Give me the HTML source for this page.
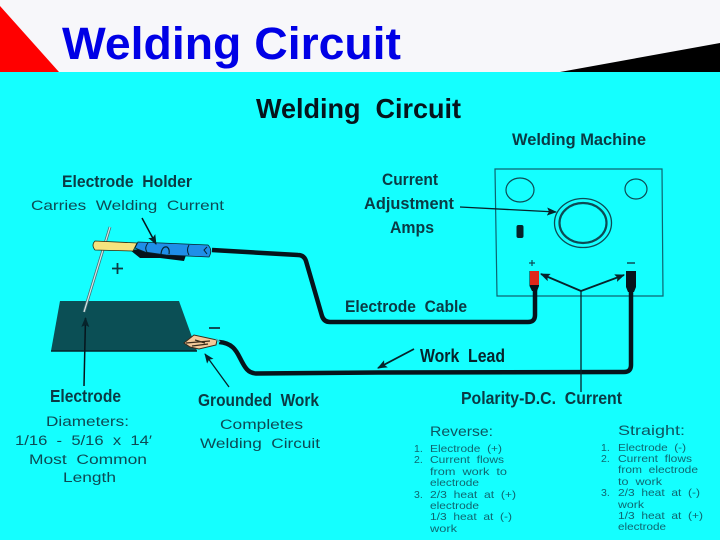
<!DOCTYPE html>
<html lang="en">
<head>
<meta charset="utf-8">
<title>Welding Circuit</title>
<style>
html,body{margin:0;padding:0;background:#14ffff}
svg{display:block}
text{font-family:"Liberation Sans",sans-serif;white-space:pre}
.h{font-weight:bold;fill:#0b3a44}
.m{fill:#0d4a54}
.s{fill:#0f6670;font-size:10.5px}
</style>
</head>
<body>
<svg width="720" height="540" viewBox="0 0 720 540" xmlns="http://www.w3.org/2000/svg">
<defs>
<marker id="a" markerWidth="10" markerHeight="8" refX="9" refY="4" orient="auto" markerUnits="userSpaceOnUse"><path d="M0 0L10 4L0 8L2 4Z" fill="#06232b"/></marker>
</defs>
<rect width="720" height="540" fill="#14ffff"/>
<rect width="720" height="72" fill="#f7f7fa"/>
<path d="M0 6L59 72H0Z" fill="#ff0000"/>
<path d="M560 72L720 43V72Z" fill="#000"/>
<text x="62" y="59" font-size="45" font-weight="bold" fill="#0000e6" textLength="339" lengthAdjust="spacingAndGlyphs">Welding Circuit</text>

<text x="256" y="118" font-size="28" font-weight="bold" fill="#06141c" textLength="205" lengthAdjust="spacingAndGlyphs">Welding  Circuit</text>
<text x="512" y="145" class="h" font-size="17" textLength="134" lengthAdjust="spacingAndGlyphs">Welding Machine</text>
<text x="62" y="187" class="h" font-size="17" textLength="130" lengthAdjust="spacingAndGlyphs">Electrode  Holder</text>
<text x="31" y="210" class="m" font-size="14" textLength="193" lengthAdjust="spacingAndGlyphs">Carries  Welding  Current</text>
<text x="382" y="185" class="h" font-size="17" textLength="56" lengthAdjust="spacingAndGlyphs">Current</text>
<text x="364" y="209" class="h" font-size="17" textLength="90" lengthAdjust="spacingAndGlyphs">Adjustment</text>
<text x="390" y="233" class="h" font-size="17" textLength="44" lengthAdjust="spacingAndGlyphs">Amps</text>
<text x="345" y="312" class="h" font-size="17" textLength="122" lengthAdjust="spacingAndGlyphs">Electrode  Cable</text>
<text x="420" y="362" font-size="18" font-weight="bold" fill="#06232b" textLength="85" lengthAdjust="spacingAndGlyphs">Work  Lead</text>
<text x="50" y="402" class="h" font-size="17.500" textLength="71" lengthAdjust="spacingAndGlyphs">Electrode</text>
<text x="198" y="406" class="h" font-size="17.500" textLength="121" lengthAdjust="spacingAndGlyphs">Grounded  Work</text>
<text x="461" y="404" class="h" font-size="17.500" textLength="161" lengthAdjust="spacingAndGlyphs">Polarity-D.C.  Current</text>

<g class="m" font-size="13.5">
<text x="46" y="426" textLength="83" lengthAdjust="spacingAndGlyphs">Diameters:</text>
<text x="15" y="445" textLength="137" lengthAdjust="spacingAndGlyphs">1/16  -  5/16  x  14′</text>
<text x="29" y="464" textLength="118" lengthAdjust="spacingAndGlyphs">Most  Common</text>
<text x="63" y="482" textLength="53" lengthAdjust="spacingAndGlyphs">Length</text>
<text x="220" y="429" textLength="83" lengthAdjust="spacingAndGlyphs">Completes</text>
<text x="200" y="448" textLength="120" lengthAdjust="spacingAndGlyphs">Welding  Circuit</text>
</g>

<text x="430" y="436" font-size="14" fill="#0d5560" textLength="63" lengthAdjust="spacingAndGlyphs">Reverse:</text>
<text x="618" y="435" font-size="14" fill="#0d5560" textLength="67" lengthAdjust="spacingAndGlyphs">Straight:</text>

<g class="s">
<text x="414" y="452">1.</text><text x="430" y="452" textLength="72" lengthAdjust="spacingAndGlyphs">Electrode  (+)</text>
<text x="414" y="463">2.</text><text x="430" y="463" textLength="74" lengthAdjust="spacingAndGlyphs">Current  flows</text>
<text x="430" y="475" textLength="77" lengthAdjust="spacingAndGlyphs">from  work  to</text>
<text x="430" y="486" textLength="49" lengthAdjust="spacingAndGlyphs">electrode</text>
<text x="414" y="498">3.</text><text x="430" y="498" textLength="86" lengthAdjust="spacingAndGlyphs">2/3  heat  at  (+)</text>
<text x="430" y="509" textLength="49" lengthAdjust="spacingAndGlyphs">electrode</text>
<text x="430" y="520" textLength="82" lengthAdjust="spacingAndGlyphs">1/3  heat  at  (-)</text>
<text x="430" y="532" textLength="27" lengthAdjust="spacingAndGlyphs">work</text>

<text x="601" y="451">1.</text><text x="618" y="451" textLength="68" lengthAdjust="spacingAndGlyphs">Electrode  (-)</text>
<text x="601" y="462">2.</text><text x="618" y="462" textLength="74" lengthAdjust="spacingAndGlyphs">Current  flows</text>
<text x="618" y="473" textLength="80" lengthAdjust="spacingAndGlyphs">from  electrode</text>
<text x="618" y="485" textLength="44" lengthAdjust="spacingAndGlyphs">to  work</text>
<text x="601" y="496">3.</text><text x="618" y="496" textLength="82" lengthAdjust="spacingAndGlyphs">2/3  heat  at  (-)</text>
<text x="618" y="508" textLength="26" lengthAdjust="spacingAndGlyphs">work</text>
<text x="618" y="519" textLength="85" lengthAdjust="spacingAndGlyphs">1/3  heat  at  (+)</text>
<text x="618" y="530" textLength="48" lengthAdjust="spacingAndGlyphs">electrode</text>
</g>

<!-- Welding machine -->
<path d="M495 169L662 169L663 296L497 296Z" fill="none" stroke="#0d6470" stroke-width="1.2"/>
<ellipse cx="520" cy="190" rx="14" ry="12" fill="none" stroke="#0d4a54" stroke-width="1.2"/>
<ellipse cx="636" cy="189" rx="11" ry="10" fill="none" stroke="#0d4a54" stroke-width="1.2"/>
<ellipse cx="583" cy="223" rx="28.5" ry="24.5" fill="none" stroke="#0d4a54" stroke-width="1.3"/>
<ellipse cx="583" cy="223" rx="23.5" ry="20" fill="none" stroke="#0d4a54" stroke-width="2.200"/>
<rect x="516.500" y="225" width="7" height="13" rx="2" fill="#06232b"/>
<path d="M529 263H535M532 260V266" stroke="#0d4a54" stroke-width="1.2"/>
<path d="M627 263H635" stroke="#0d4a54" stroke-width="1.5"/>

<!-- Cables -->
<path d="M212 250L298 255Q304 255 306 261L322 316Q324 322 330 322L528 322Q535 322 535 315V285" fill="none" stroke="#06141c" stroke-width="4.500"/>
<path d="M219 342C232 343 236 350 240 358C245 368 248 373 256 373.500L378 372.500L624 372Q631 372 631 365V285" fill="none" stroke="#06141c" stroke-width="4.500"/>

<!-- Terminals -->
<path d="M529.500 271H539V286L537 291H532L529.500 286Z" fill="#06141c"/>
<rect x="530" y="271" width="9" height="14" fill="#e0281a"/>
<path d="M626 271H636V287L634 292H628L626 287Z" fill="#06141c"/>

<!-- Polarity arrows -->
<path d="M581 392V291" stroke="#06232b" stroke-width="1.300" fill="none"/>
<path d="M581 291L541 274" stroke="#06232b" stroke-width="1.800" fill="none" marker-end="url(#a)"/>
<path d="M581 291L624 275" stroke="#06232b" stroke-width="1.800" fill="none" marker-end="url(#a)"/>
<path d="M460 207L556 212" stroke="#06232b" stroke-width="1.300" fill="none" marker-end="url(#a)"/>
<path d="M414 349L378 368" stroke="#06232b" stroke-width="1.800" fill="none" marker-end="url(#a)"/>

<!-- Plate -->
<path d="M60 301H179L197 351H51Z" fill="#0b4f55"/>
<path d="M51 351H197" stroke="#06232b" stroke-width="1.500"/>

<!-- Electrode rod -->
<path d="M110 227L84 312" stroke="#44707a" stroke-width="2.800"/>
<path d="M110 227L84 312" stroke="#d9e8e4" stroke-width="1.200"/>

<!-- Holder -->
<path d="M130 250L140 258L160 258L184 261L186 255L150 248Z" fill="#06141c"/>
<path d="M95 241L137 243L133 251L95 250Q91 245 95 241Z" fill="#f6e37e" stroke="#2a2a10" stroke-width=".8"/>
<path d="M138 242L208 245Q213 250 209 257L166 255L145 252L135 248Z" fill="#1f8fe8" stroke="#06232b" stroke-width=".8"/>
<path d="M148 243Q144 248 147 252M189 245Q186 250 189 255" fill="none" stroke="#06232b" stroke-width="1"/>
<path d="M161 254Q162 246 167 247Q170 249 169 254" fill="none" stroke="#06232b" stroke-width="1.200"/>
<path d="M207 247L204 250L207 254" fill="none" stroke="#06232b" stroke-width="1"/>
<path d="M142 218L156 244" stroke="#06141c" stroke-width="1.500" fill="none" marker-end="url(#a)"/>

<!-- Plus / minus -->
<path d="M112 268.500H123M117.500 263V274" stroke="#0d3a44" stroke-width="1.800"/>
<path d="M209 328H220" stroke="#0d3a44" stroke-width="1.800"/>

<!-- Clamp -->
<path d="M184 343L194 335L217 340L216 345L199 349L190 347Z" fill="#f2c99a" stroke="#3a2a1a" stroke-width="1"/>
<path d="M186 343L210 341M192 346L208 344M195 340L205 343" stroke="#3a2a1a" stroke-width="1.200"/>
<path d="M216 339L220 342" stroke="#3fb0c0" stroke-width="1.500"/>

<!-- Electrode arrow and grounded arrow -->
<path d="M84 386L85.500 318" stroke="#06141c" stroke-width="1.500" fill="none" marker-end="url(#a)"/>
<path d="M229 387L205 354" stroke="#06232b" stroke-width="1.300" fill="none" marker-end="url(#a)"/>
</svg>
</body>
</html>
